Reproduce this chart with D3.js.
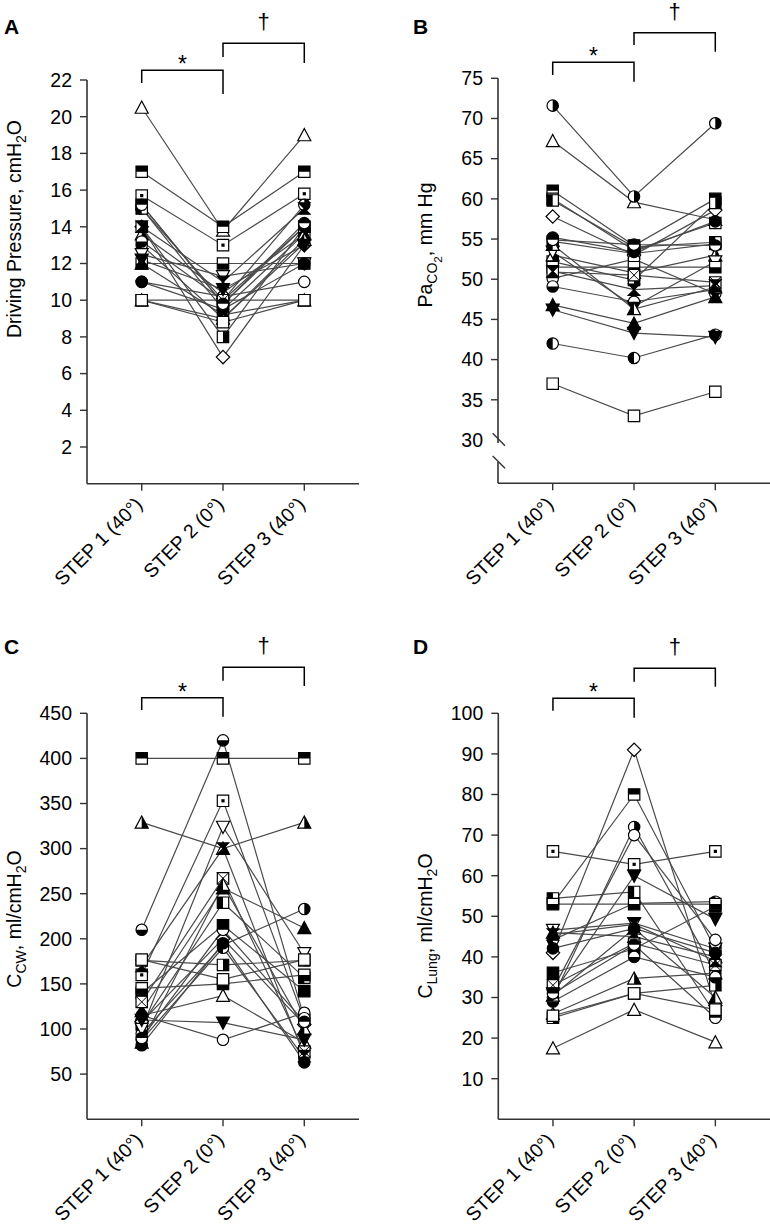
<!DOCTYPE html>
<html><head><meta charset="utf-8">
<script src="https://cdn.jsdelivr.net/npm/d3@7"></script>
<style>body{margin:0;background:#fff} svg{display:block;font-family:"Liberation Sans",Arial,Helvetica,sans-serif}</style>
</head><body><svg id="c" width="770" height="1232"></svg>
<script>
// ---------- data ----------
const steps = ["STEP 1 (40°)", "STEP 2 (0°)", "STEP 3 (40°)"];

// marker of each patient (same order in every panel)
const markerShapes = ["triUp","square","square","square","circle","square","diamond","square","triUp","circle","triDown","circle","square","circle","triUp","square","triUp","circle","hourglass","triDown","circle","square"];
const markerFills  = ["open","top","dot","fill","right","left","open","right","right","left","open","open","bottom","bottom","fill","x","left","fill","fill","fill","top","open"];

// A: Driving pressure, cmH2O
const dpStep1 = [20.5, 17, 15.7, 15.2, 15, 15, 14, 14, 13.6, 13, 12.5, 11, 12, 13.2, 12, 10, 10, 11, 14, 12.2, 15.2, 10];
const dpStep2 = [13.8, 14, 13, 9.8, 10, 9.5, 6.9, 8, 10.4, 9, 11.3, 10.2, 12, 10, 9.2, 10, 9, 9.5, 11, 10.6, 9.8, 8.8];
const dpStep3 = [19, 17, 15.8, 14, 15.2, 13.6, 13, 14, 13.6, 13.1, 12, 11, 12, 14, 10, 10, 13.3, 12, 15, 13, 14.2, 10];
const dpTicks = [2, 4, 6, 8, 10, 12, 14, 16, 18, 20, 22];

// B: PaCO2, mm Hg
const paStep1 = [67.2, 61, 60, 54.7, 71.6, 59.8, 57.8, 52.2, 53, 42, 53.4, 50.1, 51.5, 49.1, 46.8, 50.9, 54.3, 55.2, 51, 46.2, 54.9, 37];
const paStep2 = [59.6, 54.2, 53.6, 53.2, 60.3, 54, 53, 49.9, 50.8, 40.2, 46.6, 52.5, 51.5, 47.2, 44.5, 50.5, 46.3, 53.4, 48.7, 43.3, 54.3, 33];
const paStep3 = [57.4, 60, 57, 54.4, 69.4, 54.6, 58.6, 59.5, 53, 43.1, 52.2, 48.2, 51.5, 48.7, 47.8, 49.6, 49, 57.2, 49.2, 42.8, 54.2, 36];
const paTicks = [30, 35, 40, 45, 50, 55, 60, 65, 70, 75];

// C: Ccw, ml/cmH2O
const ccwStep1 = [115, 400, 160, 140, 95, 105, 108, 176, 329, 88, 100, 115, 145, 210, 120, 130, 85, 82, 170, 110, 90, 177];
const ccwStep2 = [137, 400, 353, 215, 193, 240, 200, 171, 300, 190, 324, 88, 150, 420, 256, 267, 260, 195, 300, 107, 210, 155];
const ccwStep3 = [85, 400, 110, 142, 233, 157, 105, 176, 329, 68, 184, 118, 160, 112, 212, 75, 100, 63, 70, 88, 108, 177];
const ccwTicks = [50, 100, 150, 200, 250, 300, 350, 400, 450];

// D: CLung, ml/cmH2O
const clStep1 = [17.5, 53.2, 66, 36.1, 30, 54.4, 41, 25, 26, 44.2, 46.6, 32, 53, 29, 46, 33, 30.5, 42.1, 45.5, 31, 31, 25.5];
const clStep2 = [27, 80, 62.8, 42, 72, 56, 91, 31, 34.7, 53.2, 48.3, 70, 53, 40, 45, 43.3, 47, 47, 48, 60, 43, 31];
const clStep3 = [19, 42, 66, 52.4, 36, 26, 28, 33, 36, 53.6, 42, 44.2, 53, 35, 40, 38, 30, 41, 39, 49.3, 25, 27];
const clTicks = [10, 20, 30, 40, 50, 60, 70, 80, 90, 100];

// ---------- layout ----------
const panels = [
  {letter:"A", lx:4, ly:34, s:[dpStep1,dpStep2,dpStep3], ticks:dpTicks, domain:[0,22], x0:87, x1:359, yTop:80, yBot:483.7,
   label:[{t:"Driving Pressure, cmH"},{t:"2",sub:1},{t:"O"}], labX:21, labY:229,
   star:{top:70.3, l:83, r:94}, dag:{top:43.3, l:57, r:63}},
  {letter:"B", lx:413, ly:34, s:[paStep1,paStep2,paStep3], ticks:paTicks, domain:[24.61,75], x0:498, x1:770, yTop:78.3, yBot:483.3,
   label:[{t:"Pa"},{t:"CO",sub:1},{t:"2",sub:2},{t:", mm Hg"}], labX:432, labY:245, brk:30,
   star:{top:62.3, l:75, r:81.7}, dag:{top:32.7, l:45, r:51.7}},
  {letter:"C", lx:4, ly:654, s:[ccwStep1,ccwStep2,ccwStep3], ticks:ccwTicks, domain:[0,450], x0:87, x1:359, yTop:713.3, yBot:1119.2,
   label:[{t:"C"},{t:"CW",sub:1},{t:", ml/cmH"},{t:"2",sub:1},{t:"O"}], labX:21, labY:919,
   star:{top:697.7, l:710, r:716.7}, dag:{top:667.3, l:680.7, r:686}},
  {letter:"D", lx:413, ly:654, s:[clStep1,clStep2,clStep3], ticks:clTicks, domain:[0,100], x0:498.3, x1:770, yTop:713.3, yBot:1119.3,
   label:[{t:"C"},{t:"Lung",sub:1},{t:", ml/cmH"},{t:"2",sub:1},{t:"O"}], labX:432, labY:926,
   star:{top:698.3, l:710.7, r:717.7}, dag:{top:668.3, l:681.7, r:686.7}}
];

const svg = d3.select("#c");
const defs = svg.append("defs");
const R = 6;
[["left",-R-2,-R-2,R+2,2*R+4],["right",0,-R-2,R+2,2*R+4],["top",-R-2,-R-2,2*R+4,R+2],["bottom",-R-2,0,2*R+4,R+2]].forEach(c=>{
  defs.append("clipPath").attr("id","clip-"+c[0]).append("rect").attr("x",c[1]).attr("y",c[2]).attr("width",c[3]).attr("height",c[4]);
});

function shapePath(s){
  const r = 5.7;
  switch(s){
    case "square": return `M${-r},${-r}h${2*r}v${2*r}h${-2*r}Z`;
    case "circle": return `M${r},0A${r},${r} 0 1,1 ${-r},0A${r},${r} 0 1,1 ${r},0Z`;
    case "triUp": return `M0,${-r-0.8}L${r+0.8},${r}L${-r-0.8},${r}Z`;
    case "triDown": return `M0,${r+0.8}L${r+0.8},${-r}L${-r-0.8},${-r}Z`;
    case "diamond": return `M0,${-r-1}L${r+1},0L0,${r+1}L${-r-1},0Z`;
    case "hourglass": return `M${-r},${-r}L${r},${-r}L${-r},${r}L${r},${r}Z`;
  }
}

function drawMarker(g, x, y, shape, fill){
  const m = g.append("g").attr("transform",`translate(${x},${y})`);
  const p = shapePath(shape);
  m.append("path").attr("d",p).attr("fill", fill==="fill" ? "#000" : "#fff");
  if (["left","right","top","bottom"].includes(fill))
    m.append("path").attr("d",p).attr("fill","#000").attr("clip-path",`url(#clip-${fill})`);
  if (fill==="dot") m.append("rect").attr("x",-1.6).attr("y",-1.6).attr("width",3.2).attr("height",3.2).attr("fill","#000");
  if (fill==="x") m.append("path").attr("d","M-5.7,-5.7L5.7,5.7M5.7,-5.7L-5.7,5.7").attr("stroke","#000").attr("stroke-width",1);
  m.append("path").attr("d",p).attr("fill","none").attr("stroke","#000").attr("stroke-width",1.2);
}

const axisColor = "#333";
const FS = 19.5;

panels.forEach(P=>{
  const g = svg.append("g");
  const x = d3.scalePoint().domain(steps).range([P.x0, P.x1]).padding(0.673);
  const y = d3.scaleLinear().domain(P.domain).range([P.yBot, P.yTop]);

  // letter
  g.append("text").attr("x",P.lx).attr("y",P.ly).attr("font-weight","bold").attr("font-size",21).text(P.letter);

  // y axis
  if (P.brk !== undefined){
    const yb = y(P.brk);
    g.append("line").attr("x1",P.x0).attr("x2",P.x0).attr("y1",y(P.domain[1])).attr("y2",yb+3).attr("stroke",axisColor).attr("stroke-width",1.6);
    g.append("line").attr("x1",P.x0).attr("x2",P.x0).attr("y1",yb+22).attr("y2",P.yBot).attr("stroke",axisColor).attr("stroke-width",1.6);
    [[-6.7,5.7],[16,28.3]].forEach(d=>g.append("line").attr("x1",P.x0-5.3).attr("x2",P.x0+7).attr("y1",yb+d[0]).attr("y2",yb+d[1]).attr("stroke",axisColor).attr("stroke-width",1.4));
  } else {
    g.append("line").attr("x1",P.x0).attr("x2",P.x0).attr("y1",y(P.domain[1])).attr("y2",P.yBot).attr("stroke",axisColor).attr("stroke-width",1.6);
  }
  P.ticks.forEach(t=>{
    if (t !== P.brk)
      g.append("line").attr("x1",P.x0-7).attr("x2",P.x0).attr("y1",y(t)).attr("y2",y(t)).attr("stroke",axisColor).attr("stroke-width",1.4);
    g.append("text").attr("x",P.x0-15).attr("y",y(t)).attr("dy","0.35em").attr("text-anchor","end").attr("font-size",FS).text(t);
  });

  // x axis
  g.append("line").attr("x1",P.x0).attr("x2",P.x1).attr("y1",P.yBot).attr("y2",P.yBot).attr("stroke",axisColor).attr("stroke-width",1.6);
  steps.forEach(s=>{
    g.append("line").attr("x1",x(s)).attr("x2",x(s)).attr("y1",P.yBot).attr("y2",P.yBot+7).attr("stroke",axisColor).attr("stroke-width",1.4);
    g.append("text").attr("text-anchor","end").attr("font-size",FS)
      .attr("transform",`translate(${x(s)+2},${P.yBot+22}) rotate(-45)`).text(s);
  });

  // y label
  const lt = g.append("text").attr("transform",`translate(${P.labX},${P.labY}) rotate(-90)`).attr("text-anchor","middle").attr("font-size",FS);
  let level = 0;
  P.label.forEach(part=>{
    const want = part.sub||0;
    const ts = lt.append("tspan").text(part.t);
    const fs = want===0 ? FS : (want===1 ? FS*0.72 : FS*0.6);
    ts.attr("font-size",fs);
    const off = (want - level) * 4.8;
    if (off !== 0) ts.attr("dy", off);
    level = want;
  });

  // significance brackets
  const bracket = (a,b,br,sym,dy,fs)=>{
    g.append("path").attr("d",`M${x(a)},${br.l}V${br.top}H${x(b)}V${br.r}`).attr("fill","none").attr("stroke","#000").attr("stroke-width",1.5);
    g.append("text").attr("x",(x(a)+x(b))/2).attr("y",br.top+dy).attr("text-anchor","middle").attr("font-size",fs).text(sym);
  };
  bracket(steps[0],steps[1],P.star,"*",2,23);
  bracket(steps[1],steps[2],P.dag,"†",-14,22);

  // lines
  const n = P.s[0].length;
  const line = d3.line().x(d=>x(d[0])).y(d=>y(d[1]));
  for (let i=0;i<n;i++){
    const pts = steps.map((s,k)=>[s,P.s[k][i]]);
    g.append("path").attr("d",line(pts)).attr("fill","none").attr("stroke","#4a4a4a").attr("stroke-width",1.2);
  }
  // markers
  for (let i=0;i<n;i++){
    steps.forEach((s,k)=>drawMarker(g, x(s), y(P.s[k][i]), markerShapes[i], markerFills[i]));
  }
});
</script></body></html>
